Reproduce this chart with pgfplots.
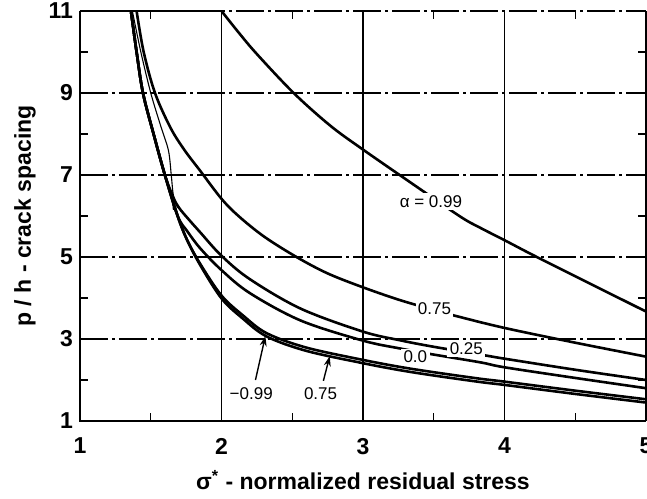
\documentclass[border=0pt]{standalone}
\usepackage{pgfplots}
\pgfplotsset{compat=1.18}
\usepackage{fontspec}
\setmainfont{Liberation Sans}
\usetikzlibrary{arrows.meta}
\begin{document}
\begin{tikzpicture}
\begin{axis}[
  scale only axis, width=283pt, height=205pt,
  xmin=1, xmax=5, ymin=1, ymax=11,
  xtick={1,2,3,4,5}, ytick={1,3,5,7,9,11},
  minor xtick={1.5,2.5,3.5,4.5}, minor ytick={2,4,6,8,10},
  tick align=inside, major tick length=0pt, minor tick length=4pt,
  tick style={black, line width=0.6pt},
  axis line style={draw=none},
  xmajorgrids, ymajorgrids,
  major x grid style={black, line width=0.6pt},
  major y grid style={black, line width=0.6pt, dash pattern=on 14pt off 2pt on 1.5pt off 2pt},
  /pgf/number format/assume math mode=true,
  ticklabel style={font=\fontsize{11.5}{13}\selectfont\bfseries},
  xticklabel style={yshift=-5pt},
  xlabel={σ\textsuperscript{*} - normalized residual stress},
  ylabel={p / h - crack spacing},
  label style={font=\fontsize{11.5}{13}\selectfont\bfseries},
  xlabel style={at={(axis description cs:0.5,-0.144)}, anchor=center},
  ylabel style={at={(axis description cs:-0.097,0.5)}, anchor=center, rotate=0},
  curve/.style={black, line width=1.3pt, smooth, tension=0.55},
  thinc/.style={black, line width=0.55pt, smooth, tension=0.5},
  clip=false,
]
% frame
\draw[line width=1.3pt] (rel axis cs:0,1) -- (rel axis cs:0,0) -- (rel axis cs:1,0);
\draw[line width=0.6pt] (rel axis cs:1,0) -- (rel axis cs:1,1);

% flat top
\addplot[black, line width=1.3pt] coordinates {(1,11) (2,11)};

% alpha = 0.99
\addplot[curve] coordinates {(2.0,11) (2.12,10.48) (2.25,9.95) (2.51,9.0) (2.77,8.2) (3.0,7.62) (3.36,6.76) (3.69,5.98) (3.83,5.71) (4.0,5.41) (4.2,5.05) (4.5,4.53) (5.0,3.67)};

% alpha = 0.75 (upper)
\addplot[curve] coordinates {(1.40,11) (1.45,10) (1.53,9) (1.64,8.15) (1.74,7.6) (1.85,7.1) (2.0,6.42) (2.12,6.0) (2.3,5.5) (2.53,5.0) (2.75,4.6) (3.0,4.26) (3.26,3.95) (3.5,3.71) (3.67,3.55) (4.0,3.27) (4.5,2.91) (5.0,2.57)};

% alpha = 0.25
\addplot[curve] coordinates {(1.36,11) (1.40,10) (1.445,9) (1.52,8) (1.60,7) (1.66,6.45) (1.70,6.2) (1.76,5.95) (1.85,5.6) (2.0,5.03) (2.2,4.46) (2.56,3.74) (3.0,3.18) (3.26,2.97) (3.5,2.81) (3.88,2.59) (4.0,2.52) (4.5,2.25) (5.0,2.0)};

% alpha = 0.0
\addplot[curve] coordinates {(1.36,11) (1.40,10) (1.445,9) (1.52,8) (1.60,7) (1.69,6) (1.76,5.62) (1.85,5.21) (2.0,4.68) (2.2,4.12) (2.56,3.45) (3.0,2.96) (3.26,2.77) (3.5,2.62) (3.83,2.43) (4.0,2.31) (4.5,2.05) (5.0,1.80)};

% alpha = -0.99
\addplot[curve] coordinates {(1.36,11) (1.40,10) (1.445,9) (1.52,8) (1.60,7) (1.69,6) (1.755,5.43) (1.85,4.83) (2.0,4.06) (2.15,3.58) (2.32,3.14) (2.6,2.79) (3.0,2.49) (3.26,2.32) (3.5,2.19) (3.83,2.03) (4.0,1.96) (4.5,1.74) (5.0,1.53)};

% alpha = 0.75 (lower)
\addplot[curve] coordinates {(1.36,11) (1.40,10) (1.445,9) (1.52,8) (1.60,7) (1.69,6) (1.755,5.43) (1.85,4.80) (2.0,3.99) (2.15,3.50) (2.32,3.06) (2.6,2.71) (3.0,2.41) (3.26,2.24) (3.5,2.11) (3.83,1.95) (4.0,1.88) (4.5,1.66) (5.0,1.45)};

% thin stray strokes
\addplot[thinc] coordinates {(1.37,11) (1.43,10) (1.50,9) (1.57,8.2) (1.625,7.6) (1.645,7.0) (1.66,6.5) (1.69,6.2)};
\addplot[black, line width=0.55pt] coordinates {(1.649,6.63) (1.66,6.15)};

% curve labels
\node[fill=white, inner sep=1.2pt, font=\fontsize{8.5}{9}\selectfont] at (axis cs:3.48,6.35) {α = 0.99};
\node[fill=white, inner sep=1.2pt, font=\fontsize{8.5}{9}\selectfont] at (axis cs:3.505,3.73) {0.75};
\node[fill=white, inner sep=1.2pt, font=\fontsize{8.5}{9}\selectfont] at (axis cs:3.73,2.76) {0.25};
\node[fill=white, inner sep=1.2pt, font=\fontsize{8.5}{9}\selectfont] at (axis cs:3.37,2.56) {0.0};
\node[font=\fontsize{8.5}{9}\selectfont] at (axis cs:2.21,1.66) {−0.99};
\node[font=\fontsize{8.5}{9}\selectfont] at (axis cs:2.70,1.66) {0.75};
\draw[-{Stealth[length=5pt,width=3.5pt]}, line width=0.7pt] (axis cs:2.24,2.0) -- (axis cs:2.31,3.07);
\draw[-{Stealth[length=5pt,width=3.5pt]}, line width=0.7pt] (axis cs:2.72,1.98) -- (axis cs:2.765,2.58);

\coordinate (bbSW) at (rel axis cs:0,0);
\coordinate (bbNE) at (rel axis cs:1,1);
\end{axis}
\pgfresetboundingbox
\path[use as bounding box] ([shift={(-40pt,-38.5pt)}]bbSW) rectangle ([shift={(0.5pt,5.5pt)}]bbNE);
\end{tikzpicture}
\end{document}
